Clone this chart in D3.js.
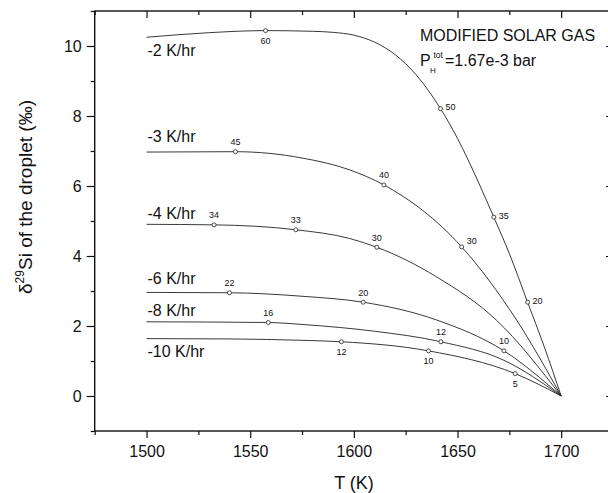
<!DOCTYPE html>
<html lang="en">
<head>
    <meta charset="UTF-8">
    <title>d29Si droplet</title>
    <script src="https://d3js.org/d3.v7.min.js"></script>
    <style>
        body { margin: 0; background: #fff; }
        text { font-family: "Liberation Sans", Arial, sans-serif; fill: #111; }
    </style>
</head>
<body>
<div id="chart"></div>

<script>
    // cooling rates (one curve each)
    var rates = ["-2 K/hr", "-3 K/hr", "-4 K/hr", "-6 K/hr", "-8 K/hr", "-10 K/hr"];

    // curve samples: temperature (K) and delta29Si (permil)
    var tempR2 = [1500, 1530, 1557.4, 1580, 1590, 1600, 1610, 1620, 1630, 1641.8, 1650, 1660, 1667.5, 1675, 1683.8, 1692, 1700];
    var deltaR2 = [10.25, 10.38, 10.44, 10.42, 10.39, 10.31, 10.11, 9.75, 9.18, 8.21, 7.36, 6.12, 5.11, 4.07, 2.68, 1.38, 0];
    var tempR3 = [1500, 1542.9, 1575, 1598, 1614.5, 1652, 1678.5, 1700];
    var deltaR3 = [6.97, 6.98, 6.80, 6.46, 6.03, 4.26, 2.17, 0];
    var tempR4 = [1500, 1532.6, 1572, 1598, 1611.1, 1640, 1668.7, 1700];
    var deltaR4 = [4.905, 4.89, 4.75, 4.50, 4.25, 3.40, 2.17, 0];
    var tempR6 = [1500, 1540, 1575, 1604.5, 1640, 1672.4, 1700];
    var deltaR6 = [2.96, 2.95, 2.85, 2.68, 2.17, 1.29, 0];
    var tempR8 = [1500, 1558.7, 1575.9, 1610, 1642, 1672.4, 1700];
    var deltaR8 = [2.12, 2.10, 2.04, 1.85, 1.55, 1.02, 0];
    var tempR10 = [1500, 1540, 1575.9, 1594, 1636, 1677.8, 1700];
    var deltaR10 = [1.64, 1.63, 1.59, 1.55, 1.29, 0.64, 0];

    // marked points on the curves (curve index, T, delta, label)
    var markCurve = [0, 0, 0, 0, 1, 1, 1, 2, 2, 2, 3, 3, 3, 4, 4, 5, 5, 5];
    var markTemp = [1557.4, 1641.8, 1667.5, 1683.8, 1542.9, 1614.5, 1652, 1532.6, 1572, 1611.1, 1540, 1604.5, 1672.4, 1558.7, 1642, 1594, 1636, 1677.8];
    var markDelta = [10.44, 8.21, 5.11, 2.68, 6.98, 6.03, 4.26, 4.89, 4.75, 4.25, 2.95, 2.68, 1.29, 2.10, 1.55, 1.55, 1.29, 0.64];
    var markLabel = ["60", "50", "35", "20", "45", "40", "30", "34", "33", "30", "22", "20", "10", "16", "12", "12", "10", "5"];

    // axis ticks
    var xMajor = [1500, 1550, 1600, 1650, 1700];
    var xMinor = [1475, 1525, 1575, 1625, 1675, 1725];
    var yMajor = [0, 2, 4, 6, 8, 10];
    var yMinor = [-1, 1, 3, 5, 7, 9, 11];

    var temps = [tempR2, tempR3, tempR4, tempR6, tempR8, tempR10];
    var deltas = [deltaR2, deltaR3, deltaR4, deltaR6, deltaR8, deltaR10];

    var W = 608, H = 493;
    var pL = 94.7, pR = 613, pT = 11, pB = 431;

    var svg = d3.select("#chart")
        .append("svg")
        .attr("width", W)
        .attr("height", H);

    var x = d3.scaleLinear().domain([1475, 1725]).range([pL, pR]);
    var y = d3.scaleLinear().domain([-1, 11]).range([pB, pT]);

    function strip(g) {
        g.select(".domain").remove();
        g.selectAll("line").attr("stroke", "#111").attr("stroke-width", 1.2);
    }

    // bottom axis
    svg.append("g")
        .attr("transform", "translate(0," + pB + ")")
        .call(d3.axisBottom(x).tickValues(xMajor).tickSize(7).tickPadding(7.6).tickFormat(d3.format("d")))
        .call(strip)
        .selectAll("text").style("font-size", "16px");
    svg.append("g")
        .attr("transform", "translate(0," + pB + ")")
        .call(d3.axisBottom(x).tickValues(xMinor).tickSize(4).tickFormat(""))
        .call(strip);

    // top axis (inward, no labels)
    svg.append("g")
        .attr("transform", "translate(0," + pT + ")")
        .call(d3.axisTop(x).tickValues(xMajor).tickSize(-7).tickFormat(""))
        .call(strip);
    svg.append("g")
        .attr("transform", "translate(0," + pT + ")")
        .call(d3.axisTop(x).tickValues(xMinor).tickSize(-4).tickFormat(""))
        .call(strip);

    // left axis
    svg.append("g")
        .attr("transform", "translate(" + pL + ",0)")
        .call(d3.axisLeft(y).tickValues(yMajor).tickSize(8).tickPadding(5).tickFormat(d3.format("d")))
        .call(strip)
        .selectAll("text").style("font-size", "16px");
    svg.append("g")
        .attr("transform", "translate(" + pL + ",0)")
        .call(d3.axisLeft(y).tickValues(yMinor).tickSize(4).tickFormat(""))
        .call(strip);

    // right axis (inward)
    svg.append("g")
        .attr("transform", "translate(" + pR + ",0)")
        .call(d3.axisRight(y).tickValues(yMajor).tickSize(-7).tickFormat(""))
        .call(strip);
    svg.append("g")
        .attr("transform", "translate(" + pR + ",0)")
        .call(d3.axisRight(y).tickValues(yMinor).tickSize(-4).tickFormat(""))
        .call(strip);

    // frame
    svg.append("rect")
        .attr("x", pL).attr("y", pT)
        .attr("width", pR - pL).attr("height", pB - pT)
        .attr("fill", "none")
        .attr("stroke", "#111")
        .attr("stroke-width", 1.4);

    // curves
    var line = d3.line()
        .x(function(d) { return x(d[0]); })
        .y(function(d) { return y(d[1]); })
        .curve(d3.curveMonotoneX);

    temps.forEach(function(t, i) {
        var pts = t.map(function(v, j) { return [v, deltas[i][j]]; });
        svg.append("path")
            .attr("d", line(pts))
            .attr("fill", "none")
            .attr("stroke", "#222")
            .attr("stroke-width", 0.9);
    });

    // curve names, placed near the start of each curve
    var labelDy = [18.4, -9.6, -5.3, -8.3, -5.7, 18.4];
    rates.forEach(function(r, i) {
        svg.append("text")
            .attr("x", x(1500) + 1)
            .attr("y", y(deltas[i][0]) + labelDy[i])
            .style("font-size", "16px")
            .text(r);
    });

    // marked points
    function side(k) {
        var c = markCurve[k];
        if (c === 5 || (c === 0 && markLabel[k] === "60")) return "below";
        if (c === 0 || (c === 1 && markLabel[k] === "30")) return "right";
        return "above";
    }

    markTemp.forEach(function(t, k) {
        var px = x(t), py = y(markDelta[k]);
        var s = side(k);
        var lbl = svg.append("text")
            .style("font-size", "9px")
            .text(markLabel[k]);
        if (s === "above") {
            lbl.attr("x", px).attr("y", py - 6.5).attr("text-anchor", "middle");
        } else if (s === "below") {
            lbl.attr("x", px).attr("y", py + 13).attr("text-anchor", "middle");
        } else {
            lbl.attr("x", px + 5).attr("y", py + (markLabel[k] === "30" ? -3 : 1.5));
        }
        svg.append("circle")
            .attr("cx", px).attr("cy", py)
            .attr("r", 2)
            .attr("fill", "#fff")
            .attr("stroke", "#222")
            .attr("stroke-width", 0.8);
    });

    // annotation
    svg.append("text")
        .attr("x", 420).attr("y", 41)
        .style("font-size", "16px")
        .text("MODIFIED SOLAR GAS");
    svg.append("text")
        .attr("x", 420).attr("y", 65.5)
        .style("font-size", "16px")
        .text("P");
    svg.append("text")
        .attr("x", 430).attr("y", 73)
        .style("font-size", "8px")
        .text("H");
    svg.append("text")
        .attr("x", 433.5).attr("y", 58)
        .style("font-size", "8.5px")
        .text("tot");
    svg.append("text")
        .attr("x", 445).attr("y", 65.5)
        .style("font-size", "16px")
        .text("=1.67e-3 bar");

    // axis titles
    svg.append("text")
        .attr("x", 354).attr("y", 489)
        .attr("text-anchor", "middle")
        .style("font-size", "18px")
        .text("T (K)");

    var yt = svg.append("text")
        .attr("transform", "translate(32,197) rotate(-90)")
        .attr("text-anchor", "middle")
        .style("font-size", "19px");
    yt.append("tspan").text("δ");
    yt.append("tspan").attr("dy", -8).style("font-size", "12px").text("29");
    yt.append("tspan").attr("dy", 8).text("Si of the droplet (‰)");
</script>
</body>
</html>
